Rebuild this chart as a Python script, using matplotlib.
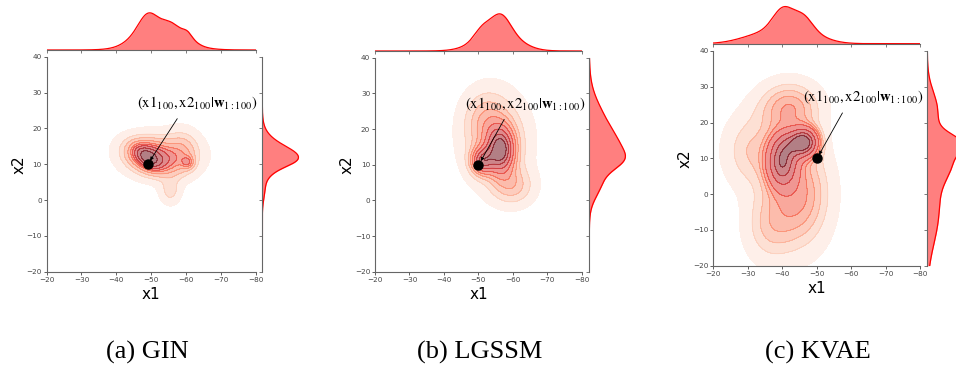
import numpy as np
import matplotlib
matplotlib.use("Agg")
import matplotlib.pyplot as plt

plt.rcParams["mathtext.fontset"] = "stix"

# Gaussian blobs (x1, x2 centres, spreads, weights)
gin_mu_x1 = [-48.8, -50.0, -53.0, -59.0, -55.5, -60.5]
gin_mu_x2 = [12.0, 12.0, 12.5, 13.5, 2.5, 10.5]
gin_sd_x1 = [2.3, 4.5, 7.0, 3.0, 2.0, 1.2]
gin_sd_x2 = [2.0, 3.0, 4.0, 3.8, 2.5, 1.2]
gin_rho = [0.5, 0.3, 0.0, 0.0, 0.0, 0.0]
gin_w = [0.09, 0.38, 0.36, 0.11, 0.04, 0.02]

lgssm_mu_x1 = [-56.5, -51.0, -55.0, -60.0, -52.0]
lgssm_mu_x2 = [14.0, 11.0, 17.0, 4.0, 23.0]
lgssm_sd_x1 = [2.8, 2.2, 6.0, 4.0, 4.0]
lgssm_sd_x2 = [4.5, 2.5, 8.0, 3.5, 5.0]
lgssm_rho = [0.0, 0.0, 0.0, 0.0, 0.0]
lgssm_w = [0.30, 0.10, 0.40, 0.10, 0.10]

kvae_mu_x1 = [-40.0, -46.5, -43.0, -45.0, -31.0, -42.0, -36.0]
kvae_mu_x2 = [9.0, 14.5, 14.0, 0.0, 12.0, 24.0, -9.0]
kvae_sd_x1 = [2.8, 2.5, 3.0, 6.0, 5.5, 6.0, 5.0]
kvae_sd_x2 = [4.5, 2.5, 2.5, 10.0, 7.0, 5.0, 7.0]
kvae_rho = [0.0, 0.0, 0.0, 0.0, 0.0, 0.0, 0.0]
kvae_w = [0.20, 0.11, 0.05, 0.30, 0.11, 0.14, 0.09]

# observed point (x1_100, x2_100)
true_x1 = [-49, -50, -50]
true_x2 = [10, 10, 10]

captions = ["(a) GIN", "(b) LGSSM", "(c) KVAE"]
note = r"$(\mathrm{x1}_{100},\mathrm{x2}_{100}|\mathbf{w}_{1:100})$"


def pdf2(X, Y, mx, my, sx, sy, rho, w):
    z = np.zeros_like(X)
    for a, b, c, d, r, k in zip(mx, my, sx, sy, rho, w):
        u = (X - a) / c
        v = (Y - b) / d
        q = (u * u - 2 * r * u * v + v * v) / (1 - r * r)
        z += k * np.exp(-0.5 * q) / (2 * np.pi * c * d * np.sqrt(1 - r * r))
    return z


def pdf1(x, m, s, w):
    y = np.zeros_like(x)
    for a, c, k in zip(m, s, w):
        y += k * np.exp(-0.5 * ((x - a) / c) ** 2) / (c * np.sqrt(2 * np.pi))
    return y


def iso_levels(Z, props):
    # density values enclosing the given share of mass (like seaborn kdeplot)
    vals = np.sort(Z.ravel())[::-1]
    cum = np.cumsum(vals) / vals.sum()
    idx = np.searchsorted(cum, 1 - np.asarray(props))
    return np.take(vals, idx, mode="clip")


models = [
    (gin_mu_x1, gin_mu_x2, gin_sd_x1, gin_sd_x2, gin_rho, gin_w),
    (lgssm_mu_x1, lgssm_mu_x2, lgssm_sd_x1, lgssm_sd_x2, lgssm_rho, lgssm_w),
    (kvae_mu_x1, kvae_mu_x2, kvae_sd_x1, kvae_sd_x2, kvae_rho, kvae_w),
]

# axes boxes in figure fractions: main, top marginal, right marginal
boxes = [
    ([0.0488, 0.2657, 0.2186, 0.5811], [0.0488, 0.8649, 0.2186, 0.1054], [0.2744, 0.2657, 0.0397, 0.5811]),
    ([0.3923, 0.2657, 0.2162, 0.5784], [0.3923, 0.8622, 0.2162, 0.1054], [0.6164, 0.2657, 0.0397, 0.5784]),
    ([0.7461, 0.2819, 0.2162, 0.5803], [0.7461, 0.8819, 0.2162, 0.1054], [0.9700, 0.2819, 0.0397, 0.5803]),
]
cap_x = [147 / 956, 480 / 956, 818 / 956]

fig = plt.figure(figsize=(9.56, 3.70), dpi=100)
g1 = np.linspace(-110, 10, 480)
g2 = np.linspace(-50, 70, 480)
X, Y = np.meshgrid(g1, g2)
band_colors = plt.cm.Reds(np.linspace(0.12, 1.0, 9))

for i, (mx, my, sx, sy, rho, w) in enumerate(models):
    mb, tb, rb = boxes[i]
    ax = fig.add_axes(mb)
    axt = fig.add_axes(tb)
    axr = fig.add_axes(rb)

    Z = pdf2(X, Y, mx, my, sx, sy, rho, w)
    levels = iso_levels(Z, np.linspace(0.05, 1, 10))
    ax.contourf(X, Y, Z, levels=levels, colors=band_colors, alpha=0.5)
    ax.contour(X, Y, Z, levels=levels[1:-1], colors=band_colors[1:], alpha=0.45,
               linewidths=0.5)

    ax.plot(true_x1[i], true_x2[i], "o", color="black", markersize=6.5, zorder=5)
    ax.annotate("", xy=(true_x1[i] - 0.7, true_x2[i] + 1.0), xytext=(-57.5, 22.7),
                arrowprops=dict(arrowstyle="-|>", color="black", lw=0.6,
                                mutation_scale=5, shrinkA=0, shrinkB=0))
    ax.text(-46, 27, note, fontsize=10.6, va="center", ha="left")

    ax.set_xlim(-20, -80)
    ax.set_ylim(-20, 40)
    ax.set_xticks(np.arange(-20, -81, -10))
    ax.set_yticks(np.arange(-20, 41, 10))
    ax.spines["top"].set_visible(False)
    ax.spines["right"].set_visible(False)
    for s in ax.spines.values():
        s.set_color("#666666")
    ax.tick_params(labelsize=5.2, colors="#444444", length=2, width=0.6, pad=1.5)
    ax.set_xlabel("x1", fontsize=11, labelpad=3)
    ax.set_ylabel("x2", fontsize=11, labelpad=0)

    # top marginal
    xs = np.linspace(-80, -20, 400)
    d1 = pdf1(xs, mx, sx, w)
    axt.fill_between(xs, 0, d1, color="red", alpha=0.5, lw=0)
    axt.plot(xs, d1, color="red", lw=0.9)
    axt.set_xlim(-20, -80)
    axt.set_ylim(0, d1.max() * 1.05)
    axt.set_xticks(np.arange(-20, -81, -10))
    axt.tick_params(labelbottom=False, left=False, labelleft=False,
                    length=2, width=0.6, colors="#666666")
    for s in ["top", "right", "left"]:
        axt.spines[s].set_visible(False)
    axt.spines["bottom"].set_color("#666666")
    axt.patch.set_alpha(0)

    # right marginal
    ys = np.linspace(-20, 40, 400)
    d2 = pdf1(ys, my, sy, w)
    axr.fill_betweenx(ys, 0, d2, color="red", alpha=0.5, lw=0)
    axr.plot(d2, ys, color="red", lw=0.9)
    axr.set_ylim(-20, 40)
    axr.set_xlim(0, d2.max() * 1.05)
    axr.set_yticks(np.arange(-20, 41, 10))
    axr.tick_params(labelleft=False, bottom=False, labelbottom=False,
                    length=2, width=0.6, colors="#666666")
    for s in ["top", "right", "bottom"]:
        axr.spines[s].set_visible(False)
    axr.spines["left"].set_color("#666666")
    axr.patch.set_alpha(0)

    fig.text(cap_x[i], 0.0486, captions[i], ha="center", va="center",
             fontsize=19, family="Liberation Serif")

fig.savefig("out.png", dpi=100)
